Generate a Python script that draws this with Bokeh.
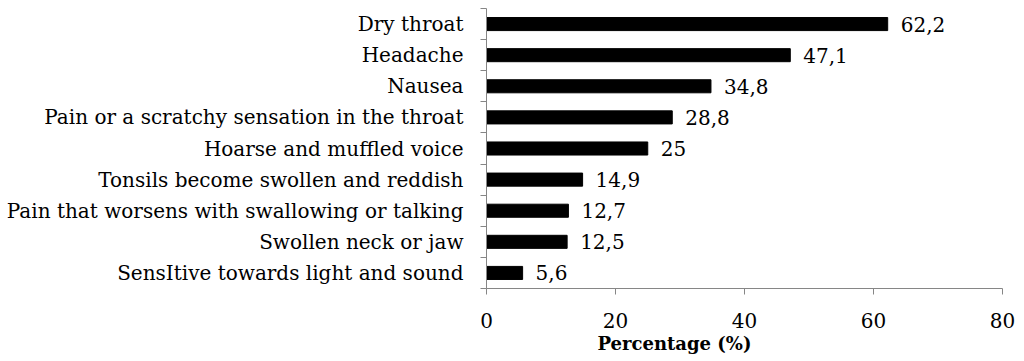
from bokeh.plotting import figure
from bokeh.models import Range1d, FixedTicker, Title, ColumnDataSource
from bokeh.core.properties import value
from bokeh.embed import file_html
from bokeh.resources import INLINE

categories = ["Dry throat", "Headache", "Nausea", "Pain or a scratchy sensation in the throat",
              "Hoarse and muffled voice", "Tonsils become swollen and reddish",
              "Pain that worsens with swallowing or talking", "Swollen neck or jaw",
              "SensItive towards light and sound"]
values = [62.2, 47.1, 34.8, 28.8, 25, 14.9, 12.7, 12.5, 5.6]
x_ticks = [0, 20, 40, 60, 80]

n = len(categories)
labels = [("%g" % v).replace(".", ",") for v in values]
ypos = [n - i - 0.5 for i in range(n)]

FONT = "DejaVu Serif"
FS = "20px"
AXC = "#868686"

src = ColumnDataSource(dict(y=ypos, val=values, lab=labels))

p = figure(width=1020, height=355, output_backend="svg", toolbar_location=None,
           y_range=Range1d(0, n), x_range=Range1d(0, 80),
           min_border_left=486, min_border_right=18, min_border_top=8, min_border_bottom=67)
p.outline_line_color = None
p.grid.visible = False

p.hbar(y="y", right="val", left=0, height=0.42, source=src, color="black")
p.text(x="val", y="y", text="lab", source=src, x_offset=13, text_baseline="middle",
       text_font=value(FONT), text_font_size=FS, text_color="black")

# x axis
xa = p.xaxis[0]
xa.ticker = FixedTicker(ticks=x_ticks)
xa.axis_line_color = AXC
xa.major_tick_line_color = AXC
xa.major_tick_in = 0
xa.major_tick_out = 6
xa.minor_tick_line_color = None
xa.major_label_text_font = FONT
xa.major_label_text_font_size = FS
xa.major_label_text_color = "black"
xa.major_label_standoff = 18

# y axis: labels at category centres, ticks between categories
ya = p.yaxis[0]
ya.ticker = FixedTicker(ticks=ypos, minor_ticks=list(range(n + 1)))
ya.major_label_overrides = {y: c for y, c in zip(ypos, categories)}
ya.axis_line_color = AXC
ya.major_tick_line_color = None
ya.major_tick_in = 0
ya.major_tick_out = 6
ya.minor_tick_line_color = AXC
ya.minor_tick_in = 0
ya.minor_tick_out = 6
ya.major_label_text_font = FONT
ya.major_label_text_font_size = FS
ya.major_label_text_color = "black"
ya.major_label_standoff = 17

p.add_layout(Title(text="Percentage (%)", align="left", offset=111, standoff=1,
                   text_font=FONT, text_font_size="18px", text_font_style="bold",
                   text_color="black"), "below")

open("out.html", "w").write(file_html(p, INLINE))
